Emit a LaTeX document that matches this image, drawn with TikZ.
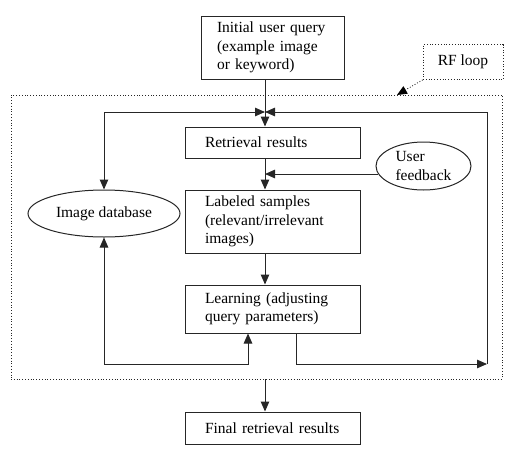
\documentclass[tikz,border=0pt]{standalone}
\usepackage{fontspec}
\setmainfont{Liberation Serif}
\usetikzlibrary{arrows.meta,shapes.geometric}
\tikzset{
  tip/.tip={Triangle[length=10pt,width=8.5pt]},
  box/.style={draw=black!85,line width=1pt,align=left,inner xsep=20pt,inner ysep=0pt,text width=135pt},
  ell/.style={draw=black!85,line width=1pt,ellipse,inner sep=0pt,align=left},
  arr/.style={draw=black!85,line width=1pt,-tip},
  arrtwo/.style={draw=black!85,line width=1pt,tip-tip},
  dotbox/.style={draw=black!85,dotted,line width=0.8pt,inner sep=0pt}
}
\begin{document}
\begin{tikzpicture}[x=1pt,y=-1pt,font=\fontsize{15.5}{18.3}\selectfont]
\useasboundingbox (0,0) rectangle (514,458);
% boxes
\node[box,text width=111pt,inner xsep=16pt,minimum height=63pt] (init) at (272.5,47.5) {Initial user query\\(example image\\or keyword)};
\node[box,minimum height=31pt] (ret) at (272.5,142.5) {Retrieval results};
\node[box,minimum height=63pt] (lab) at (272.5,221.5) {Labeled samples\\(relevant/irrelevant\\images)};
\node[box,minimum height=48pt] (learn) at (272.5,309) {Learning (adjusting\\query parameters)};
\node[box,minimum height=32pt] (final) at (272.5,428) {Final retrieval results};
\node[ell,minimum width=152pt,minimum height=47pt,align=center] (db) at (104,213.5) {Image database};
\node[ell,minimum width=95pt,minimum height=48pt] (fb) at (423.5,166) {User\\feedback};
% dotted frames
\node[dotbox,minimum width=491pt,minimum height=284pt] (loop) at (256.5,237) {};
\node[dotbox,minimum width=80pt,minimum height=35pt] (rf) at (463,62) {RF loop};
\coordinate (rfend) at (397,95);
\draw[dotted,line width=0.8pt,-tip] (rf.south west) -- (rfend);
% spine
\coordinate (j) at (265,112);
\draw[arr] (init.south -| j) -- (ret.north -| j);
\draw[arr] (ret.south -| j) -- (lab.north -| j);
\draw[arr] (lab.south -| j) -- (learn.north -| j);
\draw[arr] (fb.190) -- (fb.190 -| j);
\draw[arr] (loop.south -| j) -- (final.north -| j);
% left loop
\coordinate (lt) at (104,112);
\draw[arrtwo] (db.north) -- (lt) -- (j);
\coordinate (lb) at (104,364);
\coordinate (lm) at (248,364);
\draw[arrtwo] (db.south) -- (lb) -- (lm) -- (learn.south -| lm);
% right loop
\coordinate (rt) at (487,112);
\coordinate (rb) at (487,364);
\coordinate (lo) at (296,364);
\draw[arr] (learn.south -| lo) -- (lo) -- (rb);
\draw[arr] (rb) -- (rt) -- (j);
\end{tikzpicture}
\end{document}
